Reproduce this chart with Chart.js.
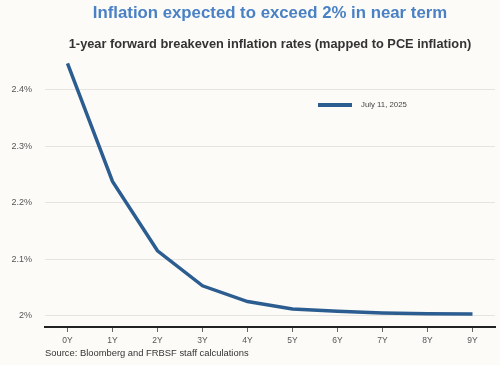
<!DOCTYPE html>
<html>
<head>
<meta charset="utf-8">
<script src="https://cdn.jsdelivr.net/npm/chart.js@4.4.1/dist/chart.umd.min.js"></script>
<style>
  html, body { margin: 0; padding: 0; background: #fcfbf8; }
  #wrap { position: relative; width: 500px; height: 365px; font-family: "Liberation Sans", Arial, sans-serif; }
  #perf-chart { position: absolute; left: 0; top: 0; }
  .title { position: absolute; left: 0; width: 540px; text-align: center; top: 3px; font-size: 16.8px; font-weight: bold; color: #4a81c4; }
  .subtitle { position: absolute; left: 0; width: 540px; text-align: center; top: 36px; font-size: 12.8px; font-weight: bold; color: #333; }
  .legend { position: absolute; left: 318px; top: 100px; font-size: 7.8px; color: #444; }
  .legend span.swatch { display: inline-block; width: 34px; height: 4px; background: #2c5d90; vertical-align: middle; margin-right: 9px; }
  .source { position: absolute; left: 45px; top: 347px; font-size: 9.4px; color: #333; }
</style>
</head>
<body>
<div id="wrap">
  <canvas id="perf-chart" width="500" height="365"></canvas>
  <div class="title">Inflation expected to exceed 2% in near term</div>
  <div class="subtitle">1-year forward breakeven inflation rates (mapped to PCE inflation)</div>
  <div class="legend"><span class="swatch"></span>July 11, 2025</div>
  <div class="source">Source: Bloomberg and FRBSF staff calculations</div>
</div>
<script>
const categories = ["0Y", "1Y", "2Y", "3Y", "4Y", "5Y", "6Y", "7Y", "8Y", "9Y"];
const july112025 = [2.447, 2.238, 2.115, 2.053, 2.025, 2.012, 2.008, 2.005, 2.0035, 2.003];
const yTickValues = [2.0, 2.1, 2.2, 2.3, 2.4];
const seriesLabel = "July 11, 2025";

function drawChart() {
  const ctx = document.getElementById("perf-chart");
  const myChart = new Chart(ctx, {
    type: "line",
    data: {
      labels: categories,
      datasets: [
        {
          label: seriesLabel,
          data: july112025,
          borderColor: "#2c5d90",
          borderWidth: 3.5,
          pointRadius: 0,
          tension: 0,
          fill: false,
        },
      ],
    },
    options: {
      responsive: false,
      animation: false,
      layout: {
        padding: { top: 56, right: 5, left: 0, bottom: 0 },
      },
      plugins: {
        legend: { display: false },
        tooltip: { enabled: false },
      },
      scales: {
        x: {
          offset: true,
          grid: {
            offset: false,
            drawOnChartArea: false,
            tickLength: 5,
            color: "#666",
          },
          border: { display: true, color: "#222", width: 2 },
          ticks: {
            color: "#555",
            font: { family: "Liberation Sans", size: 8.5 },
            padding: 4,
            maxRotation: 0,
          },
          afterFit: function (scale) {
            scale.height = 38;
          },
        },
        y: {
          min: 1.98,
          max: 2.46,
          afterBuildTicks: function (scale) {
            scale.ticks = yTickValues.map(function (v) {
              return { value: v };
            });
          },
          grid: {
            color: "#e6e4e0",
            drawTicks: false,
          },
          border: { display: false },
          ticks: {
            color: "#555",
            font: { family: "Liberation Sans", size: 9 },
            padding: 13,
            callback: function (v) {
              return Number(v.toFixed(1)) + "%";
            },
          },
          afterFit: function (scale) {
            scale.width = 45;
          },
        },
      },
    },
  });

  return myChart;
}

drawChart();
</script>
</body>
</html>
